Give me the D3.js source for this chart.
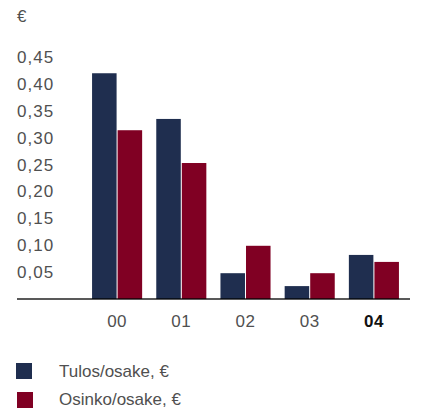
<!doctype html>
<html lang="fi">
<head>
    <meta charset="UTF-8">
    <title>Tulos ja osinko osaketta kohden</title>
    <script src="https://cdn.jsdelivr.net/npm/d3@7"></script>
    <style>
        body { margin: 0; background: #fff; }
        svg { display: block; font-family: "Liberation Sans", Arial, sans-serif; }
        .tick text { fill: #505050; font-size: 17px; }
    </style>
</head>
<body>
<script>
    var years = ["00", "01", "02", "03", "04"];
    var series = ["Tulos/osake, €", "Osinko/osake, €"];
    var tulos = [0.42, 0.335, 0.048, 0.024, 0.082];
    var osinko = [0.314, 0.253, 0.099, 0.048, 0.069];
    var yTicks = [0.05, 0.10, 0.15, 0.20, 0.25, 0.30, 0.35, 0.40, 0.45];
    var colors = ["#1f2e4f", "#800023"];

    var width = 428, height = 412;
    var baseY = 299;

    var svg = d3.select("body").append("svg")
        .attr("width", width).attr("height", height);

    var x = d3.scaleBand().domain(years).range([85, 406])
        .paddingInner(0.22).paddingOuter(0.11);
    var xs = d3.scaleBand().domain(series).range([0, x.bandwidth()])
        .paddingInner(0.04);
    var y = d3.scaleLinear().domain([0, 0.45]).range([baseY, baseY - 0.45 * 537.5]);

    // unit label
    svg.append("text").attr("x", 17).attr("y", 22)
        .attr("fill", "#505050").style("font-size", "17px").text("€");

    // y axis, labels left aligned
    var fmt = d3.format(".2f");
    var yAxis = svg.append("g").attr("transform", "translate(17,0)")
        .call(d3.axisRight(y).tickValues(yTicks).tickSize(0).tickPadding(0)
            .tickFormat(function (d) { return fmt(d).replace(".", ","); }));
    yAxis.select(".domain").remove();
    yAxis.selectAll("text").attr("letter-spacing", "1px");

    // bars
    var rows = years.map(function (yr, i) {
        return {year: yr, values: [tulos[i], osinko[i]]};
    });
    var groups = svg.selectAll("g.grp").data(rows).enter().append("g")
        .attr("class", "grp")
        .attr("transform", function (d) { return "translate(" + x(d.year) + ",0)"; });
    groups.selectAll("rect").data(function (d) {
        return d.values.map(function (v, j) { return {s: series[j], v: v, j: j}; });
    }).enter().append("rect")
        .attr("x", function (d) { return xs(d.s); })
        .attr("width", xs.bandwidth())
        .attr("y", function (d) { return y(d.v); })
        .attr("height", function (d) { return baseY - y(d.v); })
        .attr("fill", function (d) { return colors[d.j]; });

    // baseline
    svg.append("line").attr("x1", 17).attr("x2", 410)
        .attr("y1", baseY).attr("y2", baseY)
        .attr("stroke", "#000").attr("stroke-opacity", 0.65).attr("stroke-width", 2);

    // x axis labels
    var xAxis = svg.append("g").attr("transform", "translate(0," + (baseY + 16) + ")")
        .call(d3.axisBottom(x).tickSize(0).tickPadding(0));
    xAxis.select(".domain").remove();
    xAxis.selectAll("text").attr("letter-spacing", "0.5px")
        .filter(function (d) { return d === "04"; })
        .attr("font-weight", "bold").style("fill", "#111");

    // legend
    var leg = svg.selectAll("g.leg").data(series).enter().append("g")
        .attr("class", "leg")
        .attr("transform", function (d, i) { return "translate(0," + (i === 0 ? 363 : 392) + ")"; });
    leg.append("rect").attr("x", function (d, i) { return i === 0 ? 16 : 17; })
        .attr("width", 16).attr("height", 16)
        .attr("fill", function (d, i) { return colors[i]; });
    leg.append("text").attr("x", 59).attr("y", function (d, i) { return i === 0 ? 14 : 12.5; })
        .attr("fill", "#505050").style("font-size", "17px")
        .text(function (d) { return d; });
</script>
</body>
</html>
